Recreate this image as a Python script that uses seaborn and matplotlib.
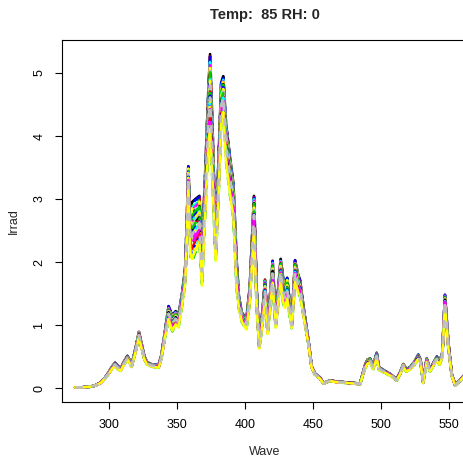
import numpy as np
import pandas as pd
import matplotlib
matplotlib.use("Agg")
import matplotlib.pyplot as plt
import seaborn as sns

# ---- data ----
wave = [275, 280, 286, 290, 294, 297, 300, 302.5, 304.5, 306.5, 308.5, 311, 313.5, 315,
        316.5, 319, 322, 324, 326, 328, 331, 334, 336.5, 338.5, 341, 343.8, 346.5, 349,
        351, 353.7, 356, 357.3, 358.3, 359.8, 361, 363.5, 366.5, 368.3, 370.6, 373, 374.3,
        376, 378.4, 380.5, 382.5, 384, 386, 389, 391.4, 393.9, 395.5, 397.6, 401, 403.5,
        406.6, 408.5, 410.5, 412.5, 414.7, 416.6, 418.5, 420.3, 422.5, 424.5, 426.2, 428,
        429.4, 431, 434.3, 436.8, 439, 440.5, 442.9, 446.6, 449, 451.5, 455, 457.6, 462.5,
        468, 474.8, 480, 484.6, 488, 490, 492, 494.3, 496.8, 498.5, 503, 507, 511.5, 514,
        516.4, 518.5, 521.3, 524, 527.4, 529, 531, 533.6, 536, 538.5, 541, 543, 545, 547,
        549.5, 552, 554.5, 558, 561]

irrad_high = [0.01, 0.01, 0.02, 0.04, 0.09, 0.16, 0.26, 0.35, 0.40, 0.35, 0.31, 0.42, 0.51, 0.45,
              0.37, 0.58, 0.89, 0.70, 0.50, 0.41, 0.38, 0.37, 0.37, 0.52, 0.88, 1.30, 1.15, 1.22,
              1.15, 1.50, 1.90, 2.70, 3.52, 2.60, 2.95, 3.00, 3.05, 2.15, 3.35, 4.70, 5.30,
              4.20, 2.40, 3.60, 4.85, 4.95, 4.20, 3.65, 3.25, 2.00, 1.45, 1.20, 1.10, 1.60,
              3.05, 1.60, 0.72, 1.15, 1.72, 0.98, 1.50, 2.02, 1.10, 1.60, 2.05, 1.75,
              1.65, 1.75, 1.05, 2.03, 1.80, 1.71, 1.30, 0.76, 0.34, 0.23, 0.17, 0.08, 0.12,
              0.10, 0.09, 0.08, 0.07, 0.35, 0.45, 0.47, 0.36, 0.56, 0.33, 0.27, 0.22, 0.14, 0.25,
              0.38, 0.30, 0.33, 0.40, 0.53, 0.45, 0.12, 0.47, 0.30, 0.40, 0.50, 0.42, 0.55, 1.48,
              0.72, 0.22, 0.05, 0.13, 0.20]

irrad_low = [0.01, 0.01, 0.02, 0.04, 0.08, 0.15, 0.23, 0.31, 0.35, 0.30, 0.27, 0.37, 0.45, 0.40,
             0.33, 0.52, 0.80, 0.62, 0.45, 0.37, 0.34, 0.33, 0.32, 0.46, 0.78, 1.08, 0.90, 1.00,
             0.95, 1.30, 1.65, 2.40, 3.20, 2.10, 2.00, 2.15, 2.28, 1.60, 2.70, 3.80, 4.05,
             3.30, 2.00, 3.00, 4.20, 4.35, 3.60, 3.05, 2.70, 1.56, 1.25, 1.05, 0.92, 1.35,
             2.50, 1.30, 0.62, 0.95, 1.40, 0.85, 1.25, 1.65, 0.95, 1.35, 1.70, 1.35,
             1.25, 1.40, 0.95, 1.70, 1.50, 1.45, 1.15, 0.70, 0.32, 0.21, 0.15, 0.07, 0.11,
             0.09, 0.08, 0.07, 0.06, 0.30, 0.38, 0.40, 0.30, 0.47, 0.28, 0.24, 0.19, 0.12, 0.22,
             0.33, 0.26, 0.29, 0.35, 0.46, 0.40, 0.08, 0.41, 0.26, 0.35, 0.43, 0.37, 0.48, 1.30,
             0.63, 0.19, 0.04, 0.11, 0.18]

# position of each measured curve between the lowest (0) and highest (1) curve
series_level = [1.00, 0.97, 0.93, 0.98, 0.90, 0.86, 0.88, 0.82,
                0.79, 0.75, 0.77, 0.71, 0.68, 0.64, 0.66, 0.60,
                0.56, 0.52, 0.55, 0.47, 0.43, 0.38, 0.41, 0.33,
                0.27, 0.22, 0.00, 0.16, 0.10, 0.30, 0.05, 0.45]

x_ticks = [300, 350, 400, 450, 500, 550]
y_ticks = [0, 1, 2, 3, 4, 5]
title = "Temp:  85 RH: 0"

# ---- build long table ----
hi = np.array(irrad_high)
lo = np.array(irrad_low)
frames = []
for i, lev in enumerate(series_level):
    frames.append(pd.DataFrame({"Wave": wave,
                                "Irrad": lo + lev * (hi - lo),
                                "series": f"s{i:02d}"}))
df = pd.concat(frames, ignore_index=True)
names = [f"s{i:02d}" for i in range(len(series_level))]

r_cols = ["#000000", "#FF0000", "#00CD00", "#0000FF", "#00FFFF", "#FF00FF", "#FFFF00", "#BEBEBE"]
r_dash = ["", (3, 3), (1, 2), (1, 2, 3, 2), (5, 2)]
palette = {n: r_cols[i % len(r_cols)] for i, n in enumerate(names)}
dashes = {n: r_dash[i % len(r_dash)] for i, n in enumerate(names)}

sns.set_style("ticks")
plt.rcParams["font.family"] = ["Liberation Sans", "DejaVu Sans"]

fig = plt.figure(figsize=(4.63, 4.58), dpi=100)
ax = fig.add_axes([62 / 463, 1 - 402 / 458, 405 / 463, 362 / 458])

sns.lineplot(data=df, x="Wave", y="Irrad", hue="series", style="series",
             hue_order=names, style_order=names, palette=palette, dashes=dashes,
             legend=False, linewidth=1.9, sort=False, ax=ax)

ax.set_xlim(265.44, 563.2)
ax.set_ylim(-0.222, 5.524)
ax.set_xticks(x_ticks)
ax.set_yticks(y_ticks)
ax.set_xticklabels([str(v) for v in x_ticks])
ax.set_yticklabels([str(v) for v in y_ticks], rotation=90, va="center")
ax.tick_params(axis="both", direction="out", length=5, width=0.8, colors="black",
               labelsize=9, pad=7)
for s in ["left", "bottom", "top", "right"]:
    ax.spines[s].set_visible(True)
    ax.spines[s].set_color("black")
    ax.spines[s].set_linewidth(0.8)
ax.set_xlabel("Wave", fontsize=9, labelpad=11)
ax.set_ylabel("Irrad", fontsize=9, labelpad=10)
ax.set_title(title, fontsize=10.5, fontweight="bold", pad=15)
ax.grid(False)

fig.savefig("out.png", dpi=100)
